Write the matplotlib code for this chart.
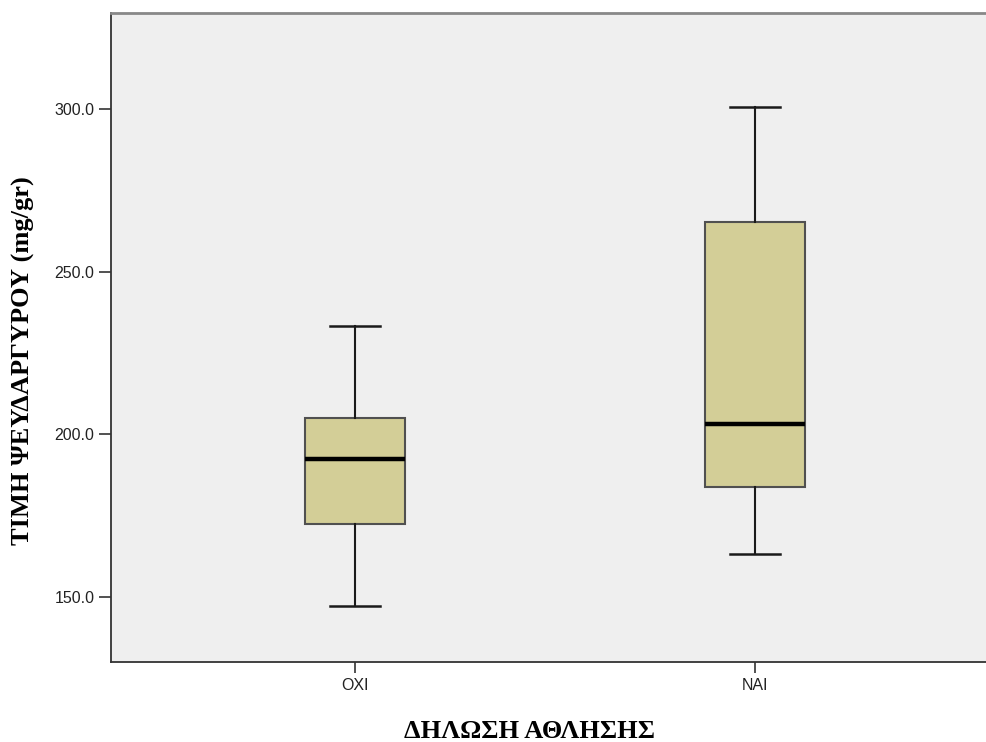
import matplotlib.pyplot as plt

# five-number summaries per group
groups = ['ΟΧΙ', 'ΝΑΙ']
whisker_low = [147.2, 163.1]
q1 = [172.3, 183.6]
median = [192.3, 203.1]
q3 = [204.9, 265.2]
whisker_high = [233.3, 300.7]

stats = []
for i, g in enumerate(groups):
    stats.append({'label': g, 'whislo': whisker_low[i], 'q1': q1[i], 'med': median[i],
                  'q3': q3[i], 'whishi': whisker_high[i], 'fliers': []})

fig = plt.figure(figsize=(9.87, 7.42), dpi=100)
ax = fig.add_axes([111 / 987, 80.3 / 742, 888 / 987, 648.7 / 742])
ax.set_facecolor('#efefef')

ax.bxp(stats, positions=[0, 1], widths=0.25, capwidths=0.125, patch_artist=True,
       boxprops=dict(facecolor='#d3ce97', edgecolor='#505050', linewidth=1.5),
       whiskerprops=dict(color='#1a1a1a', linewidth=1.5),
       capprops=dict(color='#1a1a1a', linewidth=1.8),
       medianprops=dict(color='black', linewidth=3.2))

ax.set_xlim(-0.61, 1.61)
ax.set_ylim(130, 329.5)
ax.set_yticks([150, 200, 250, 300])
ax.set_yticklabels(['150.0', '200.0', '250.0', '300.0'])
ax.set_xticks([0, 1])
ax.set_xticklabels(groups)

for lab in ax.get_xticklabels() + ax.get_yticklabels():
    lab.set_family('Liberation Sans')
    lab.set_fontsize(11.5)
    lab.set_color('#222222')
ax.tick_params(axis='y', length=9, width=1.2, color='#333333', pad=3)
ax.tick_params(axis='x', length=8, width=1.2, color='#333333', pad=4)

ax.spines['left'].set_color('#333333')
ax.spines['bottom'].set_color('#333333')
ax.spines['left'].set_linewidth(1.3)
ax.spines['bottom'].set_linewidth(1.3)
ax.spines['top'].set_color('#888888')
ax.spines['top'].set_linewidth(2)
ax.spines['right'].set_visible(False)

fig.text(23 / 987, 1 - 361 / 742, 'ΤΙΜΗ ΨΕΥΔΑΡΓΥΡΟΥ (mg/gr)', rotation=90,
         ha='center', va='center', family='Liberation Serif', weight='bold', fontsize=19)
fig.text(529 / 987, 1 - 731 / 742, 'ΔΗΛΩΣΗ ΑΘΛΗΣΗΣ', ha='center', va='center',
         family='Liberation Serif', weight='bold', fontsize=19)

fig.savefig('out.png', dpi=100)
